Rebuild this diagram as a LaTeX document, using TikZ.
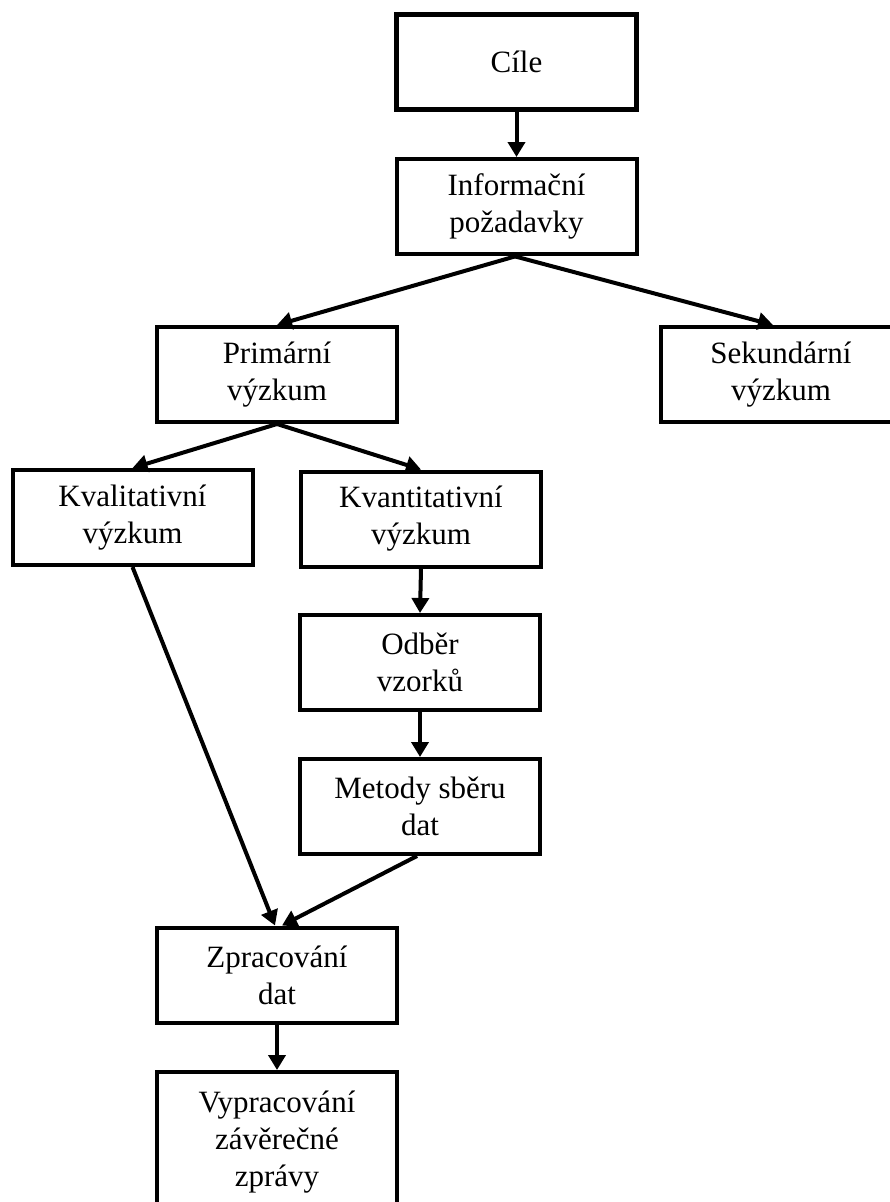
\documentclass[tikz,border=0pt]{standalone}
\usepackage{fontspec}
\setmainfont{Liberation Serif}
\usetikzlibrary{arrows.meta}
\tikzset{
  box/.style={draw=black, line width=4pt, fill=white, minimum width=240pt, minimum height=95pt,
    align=center, inner sep=2pt, font=\fontsize{31}{37}\selectfont},
  thickbox/.style={box, line width=5pt},
  conn/.style={line width=4pt, -{Triangle[length=15pt,width=17pt]}}
}
\begin{document}
\begin{tikzpicture}[x=1pt,y=-1pt]
\clip (0,0) rectangle (890,1202);
\fill[white] (0,0) rectangle (890,1202);
\node[thickbox] (cile) at (516.5,61.5) {Cíle};
\node[box] (info) at (516.5,206.5) {Informační\\požadavky};
\node[box] (prim) at (277,374.5) {Primární\\výzkum};
\node[box] (sek) at (781,374.5) {Sekundární\\výzkum};
\node[box] (kval) at (132.5,517.5) {Kvalitativní\\výzkum};
\node[box] (kvant) at (421,519) {Kvantitativní\\výzkum};
\node[box] (odber) at (420,662.5) {Odběr\\vzorků};
\node[box] (metody) at (420,806.5) {Metody sběru\\dat};
\node[box] (zprac) at (277,975) {Zpracování\\dat};
\node[box, minimum height=140pt] (vyp) at (277,1142) {Vypracování\\závěrečné\\zprávy};
\draw[conn] (cile.south) -- (info.north);
\draw[conn] (info.south) -- (prim.north);
\draw[conn] ([xshift=-3pt]info.south) -- ([xshift=-8pt]sek.north);
\draw[conn] (prim.south) -- (kval.north);
\draw[conn] (prim.south) -- (kvant.north);
\draw[conn] (kvant.south) -- (odber.north);
\draw[conn] (odber.south) -- (metody.north);
\draw[conn] (kval.south) -- ([xshift=-2pt]zprac.north);
\draw[conn] ([xshift=-3pt]metody.south) -- ([xshift=5pt]zprac.north);
\draw[conn] (zprac.south) -- (vyp.north);
\end{tikzpicture}
\end{document}
